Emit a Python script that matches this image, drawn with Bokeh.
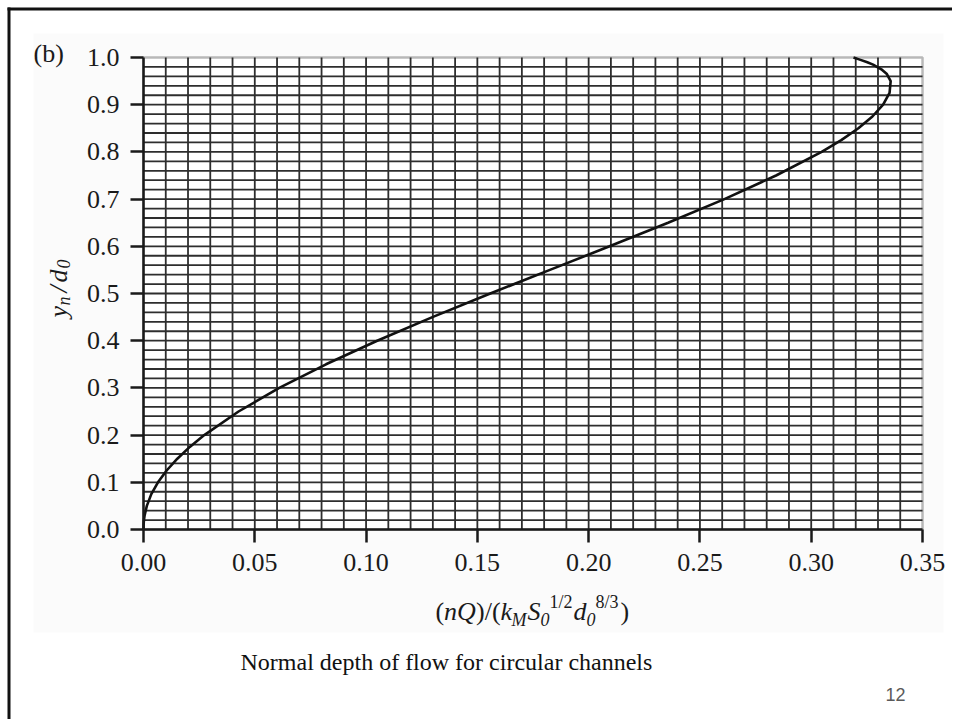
import math
from bokeh.plotting import figure
from bokeh.models import Range1d, FixedTicker, Label, BoxAnnotation, NumeralTickFormatter
from bokeh.embed import file_html
from bokeh.resources import INLINE

# ---- data ----
y_ratio = [0.0, 0.01, 0.02, 0.03, 0.05, 0.075, 0.10, 0.125, 0.15, 0.175, 0.20,
           0.25, 0.30, 0.35, 0.40, 0.45, 0.50, 0.55, 0.60, 0.65, 0.70, 0.75,
           0.80, 0.825, 0.85, 0.875, 0.90, 0.925, 0.95, 0.965, 0.975, 0.985,
           0.99, 0.996, 1.0]
q_ratio = [0.0, 0.00005, 0.0002, 0.0005, 0.0015, 0.0035, 0.0065, 0.0104, 0.0152,
           0.0208, 0.0273, 0.0427, 0.0610, 0.0820, 0.1050, 0.1298, 0.1558, 0.1826,
           0.2094, 0.2357, 0.2610, 0.2842, 0.3047, 0.3135, 0.3212, 0.3275, 0.3323,
           0.3352, 0.3357, 0.3340, 0.3315, 0.3278, 0.3252, 0.3215, 0.3190]
x_ticks = [0.0, 0.05, 0.10, 0.15, 0.20, 0.25, 0.30, 0.35]
y_ticks = [0.0, 0.1, 0.2, 0.3, 0.4, 0.5, 0.6, 0.7, 0.8, 0.9, 1.0]
x_grid = [i / 100 for i in range(1, 35)]
y_grid = [i / 50 for i in range(1, 50)]
X_MAX, Y_MAX = 0.35, 1.0

# ---- page geometry (px) ----
W, H = 952, 719
FL, FR, FT, FB = 143, 922, 57, 529          # plot box edges
XS = X_MAX / (FR - FL)                      # data per px
YS = Y_MAX / (FB - FT)


def dx(px):
    return (px - FL) * XS


def dy(py):
    return (FB - py) * YS


p = figure(width=W, height=H, title=None,
           x_range=Range1d(dx(0), dx(W)), y_range=Range1d(dy(H), dy(0)),
           output_backend="svg", toolbar_location=None, min_border=0)
p.background_fill_color = "white"
p.border_fill_color = "white"
p.outline_line_color = None
p.xgrid.visible = False
p.ygrid.visible = False

# faint background of the embedded figure
p.add_layout(BoxAnnotation(left=dx(33), right=dx(943), top=dy(33), bottom=dy(632),
                           fill_color="#fbfbfb", fill_alpha=1.0, line_color=None,
                           level="image"))
# white plotting area
p.add_layout(BoxAnnotation(left=0, right=X_MAX, top=Y_MAX, bottom=0,
                           fill_color="white", fill_alpha=1.0, line_color=None,
                           level="image"))

# grid
p.segment(x0=x_grid, y0=[0] * len(x_grid), x1=x_grid, y1=[Y_MAX] * len(x_grid),
          line_color="#2e2e2e", line_width=1.8)
p.segment(x0=[0] * len(y_grid), y0=y_grid, x1=[X_MAX] * len(y_grid), y1=y_grid,
          line_color="#2e2e2e", line_width=1.8)

# curve
p.line(q_ratio, y_ratio, line_width=2.6, line_color="#111111")

# plot box
p.add_layout(BoxAnnotation(left=0, right=X_MAX, top=Y_MAX, bottom=0,
                           fill_color=None, line_color="#1a1a1a", line_width=2.5,
                           level="overlay"))

# axes (library axes fixed at the plot box edges)
p.xaxis.fixed_location = 0
p.yaxis.fixed_location = 0
p.xaxis.bounds = (0, X_MAX)
p.yaxis.bounds = (0, Y_MAX)
p.xaxis.ticker = FixedTicker(ticks=x_ticks)
p.yaxis.ticker = FixedTicker(ticks=y_ticks)
p.xaxis.formatter = NumeralTickFormatter(format="0.00")
p.yaxis.formatter = NumeralTickFormatter(format="0.0")
for ax in (p.xaxis, p.yaxis):
    ax.axis_line_color = "#1a1a1a"
    ax.axis_line_width = 2.5
    ax.major_tick_line_color = "#1a1a1a"
    ax.major_tick_line_width = 2.5
    ax.major_tick_in = 0
    ax.major_tick_out = 13
    ax.minor_tick_line_color = None
    ax.major_label_text_font = "Liberation Serif"
    ax.major_label_text_font_size = "26px"
    ax.major_label_text_color = "#1a1a1a"
p.xaxis.major_label_standoff = 11
p.yaxis.major_label_standoff = 11

# slide frame lines
p.add_layout(BoxAnnotation(left=dx(7), right=dx(W + 5), top=dy(7), bottom=dy(10),
                           fill_color="#111111", fill_alpha=1.0, line_color=None,
                           level="overlay"))
p.add_layout(BoxAnnotation(left=dx(7), right=dx(10), top=dy(7), bottom=dy(H + 5),
                           fill_color="#111111", fill_alpha=1.0, line_color=None,
                           level="overlay"))


def txt(s, px, py, size, italic=False, font="Liberation Serif", color="#1a1a1a",
        angle=0.0, align="left", baseline="alphabetic"):
    p.add_layout(Label(x=dx(px), y=dy(py),
                       text=s, text_font=font, text_font_size=f"{size}px",
                       text_font_style="italic" if italic else "normal",
                       text_color=color, angle=angle, text_align=align,
                       text_baseline=baseline))


# panel tag
txt("(b)", 33, 53, 26)

# x axis title pieces
BL, SUB, SUP = 611, 619, 601
txt("(", 435, BL, 26)
txt("nQ", 443.5, BL, 26, italic=True)
txt(")/(", 475.5, BL, 26)
txt("k", 500, BL, 26, italic=True)
txt("M", 511, SUB, 18, italic=True)
txt("S", 527, BL, 26, italic=True)
txt("0", 540, SUB, 18, italic=True)
txt("1/2", 549, SUP, 18)
txt("d", 573, BL, 26, italic=True)
txt("0", 586, SUB, 18, italic=True)
txt("8/3", 595, SUP, 18)
txt(")", 620, BL, 26)

# y axis title pieces (rotated, reading upwards)
R = math.pi / 2
txt("y", 58, 317, 26, italic=True, angle=R)
txt("n", 63, 305, 18, italic=True, angle=R)
txt("/", 58, 292, 26, italic=True, angle=R)
txt("d", 58, 282, 26, italic=True, angle=R)
txt("0", 63, 268, 18, italic=True, angle=R)

# caption and page number
txt("Normal depth of flow for circular channels", 240, 661, 24, color="#111111")
txt("12", 885, 694, 18, font="Liberation Sans", color="#5a5a5a")

open("out.html", "w").write(file_html(p, INLINE))
